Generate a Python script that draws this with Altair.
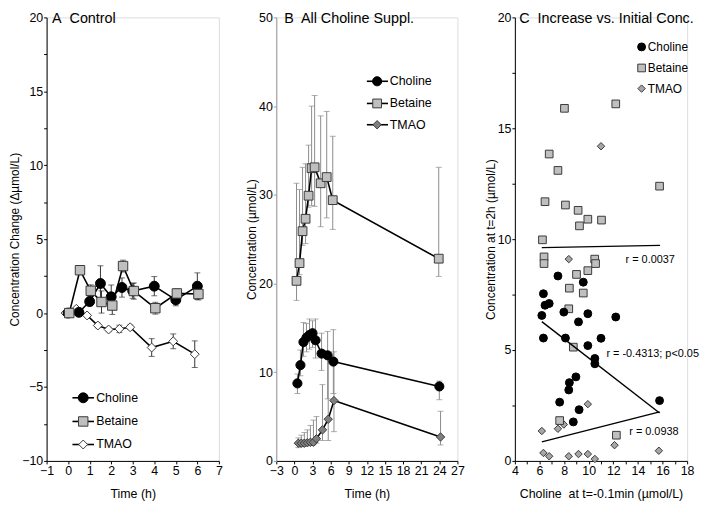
import altair as alt
import pandas as pd

FONT = "Liberation Sans Narrow, Arial Narrow, Liberation Sans, Arial, sans-serif"
SERIES = ["Choline", "Betaine", "TMAO"]

# ---------------- Panel A: Control (change vs baseline) ----------------
a_choline_t = [0, 0.5, 1, 1.5, 2, 2.5, 3, 4, 5, 6]
a_choline_v = [0, 0.05, 0.78, 2.0, 1.1, 1.73, 1.5, 1.82, 0.89, 1.82]
a_choline_e = [0, 0.15, 0.3, 1.2, 0.8, 0.65, 0.5, 0.65, 0.4, 0.9]
a_betaine_t = [0.05, 0.55, 1.05, 1.55, 2.05, 2.55, 3.05, 4.05, 5.05, 6.05]
a_betaine_v = [0, 2.9, 1.51, 0.75, 0.51, 3.18, 1.49, 0.33, 1.33, 1.29]
a_betaine_e = [0, 0.3, 0.4, 0.75, 0.6, 0.4, 0.55, 0.4, 0.3, 0.4]
a_tmao_t = [-0.12, 0.38, 0.88, 1.38, 1.88, 2.38, 2.88, 3.88, 4.88, 5.88]
a_tmao_v = [0, 0.29, -0.16, -0.84, -1.11, -1.07, -0.96, -2.33, -1.91, -2.78]
a_tmao_e = [0, 0.1, 0.1, 0.15, 0.15, 0.25, 0.15, 0.6, 0.5, 0.9]

# ---------------- Panel B: All choline supplementation ----------------
b_choline_t = [0.5, 1.0, 1.5, 2.0, 2.5, 3.0, 3.5, 4.5, 5.5, 6.45, 24.0]
b_choline_v = [8.74, 10.8, 13.4, 13.9, 14.2, 14.4, 13.6, 12.1, 11.9, 11.2, 8.4]
b_choline_lo = [7.6, 9.6, 11.8, 12.3, 12.6, 12.8, 11.6, 10.2, 7.0, 7.6, 6.9]
b_choline_hi = [9.8, 12.5, 15.6, 15.5, 16.0, 15.8, 16.0, 14.4, 14.6, 14.8, 9.0]
b_betaine_t = [0.35, 0.85, 1.35, 1.85, 2.35, 2.85, 3.35, 4.35, 5.35, 6.35, 23.9]
b_betaine_v = [20.3, 22.3, 25.9, 27.3, 29.9, 33.0, 33.1, 31.3, 32.0, 29.4, 22.8]
b_betaine_lo = [18.1, 21.0, 24.3, 24.5, 28.6, 28.8, 28.7, 26.4, 27.4, 26.1, 20.8]
b_betaine_hi = [31.3, 30.6, 33.1, 33.5, 35.6, 40.0, 41.2, 38.9, 39.4, 36.6, 33.1]
b_tmao_t = [0.65, 1.15, 1.65, 2.15, 2.65, 3.15, 3.65, 4.65, 5.6, 6.55, 24.2]
b_tmao_v = [2.0, 2.0, 2.0, 2.05, 2.1, 2.1, 2.5, 3.5, 4.7, 6.8, 2.7]
b_tmao_lo = [1.5, 1.6, 1.7, 1.8, 1.8, 1.8, 2.0, 2.3, 2.3, 3.3, 1.8]
b_tmao_hi = [2.6, 2.9, 3.2, 3.5, 4.0, 4.6, 5.0, 8.6, 12.0, 12.3, 5.6]

# ---------------- Panel C: increase vs initial concentration ----------------
c_choline_x = [7.5, 9.56, 6.32, 6.79, 6.45, 6.19, 7.98, 9.93, 9.17, 12.2, 6.32, 8.11,
               11.0, 9.93, 10.5, 10.5, 8.96, 8.43, 8.38, 7.64, 9.22, 8.75, 15.76]
c_choline_y = [8.34, 8.06, 7.54, 7.10, 7.02, 6.56, 6.71, 6.64, 6.27, 6.49, 5.54, 5.54,
               5.53, 5.2, 4.62, 4.38, 3.79, 3.53, 3.2, 2.65, 2.31, 1.76, 2.72]
c_betaine_x = [8.03, 12.2, 6.79, 7.5, 15.76, 6.45, 8.11, 9.14, 9.93, 11.04, 9.25, 6.24,
               6.37, 6.37, 10.49, 10.56, 9.93, 9.01, 8.43, 9.56, 8.38, 8.75, 7.64, 12.25]
c_betaine_y = [15.9, 16.1, 13.84, 13.1, 12.39, 11.69, 11.54, 11.3, 10.9, 10.86, 10.6, 9.97,
               9.2, 8.9, 9.1, 8.9, 8.58, 8.41, 7.79, 7.57, 6.86, 5.13, 1.82, 1.16]
c_tmao_x = [11.0, 8.38, 9.93, 6.19, 7.5, 7.98, 12.1, 6.32, 6.79, 8.38, 9.17, 9.93, 10.5, 15.7]
c_tmao_y = [14.19, 9.1, 2.56, 1.35, 1.45, 1.64, 0.71, 0.36, 0.21, 0.21, 0.31, 0.31, 0.09, 0.46]
# regression line end points
c_fit_x0 = [6.19, 6.19, 6.19]
c_fit_y0 = [6.28, 9.62, 0.86]
c_fit_x1 = [15.76, 15.8, 15.76]
c_fit_y1 = [2.16, 9.72, 2.21]
c_r_text = ["r = -0.4313; p<0.05", "r = 0.0037", "r = 0.0938"]
c_r_x = [15.2, 15.0, 15.3]
c_r_y = [4.84, 9.07, 1.3]

# ---------------- helpers ----------------
def long_df(parts):
    rows = []
    for name, ts, vs, los, his in parts:
        for t, v, lo, hi in zip(ts, vs, los, his):
            rows.append(dict(series=name, t=t, v=v, lo=lo, hi=hi))
    return pd.DataFrame(rows)


def sym(vals, errs, sign):
    return [v + sign * e for v, e in zip(vals, errs)]


AX = dict(grid=False, domainColor="black", tickColor="black", labelColor="black",
          titleColor="black", labelFont=FONT, titleFont=FONT, labelFontSize=12.5,
          titleFontSize=12.5, titleFontWeight="normal", tickSize=3, labelPadding=1,
          labelOverlap=False, labelFlush=False, tickCount=100, format="d")


def xaxis(title, values, label_expr=None):
    kw = dict(AX, title=title, values=values, titlePadding=10)
    if label_expr:
        kw["labelExpr"] = label_expr
    return alt.Axis(**kw)


def yaxis(title, values, label_expr=None, domain_color="black"):
    kw = dict(AX, title=title, values=values, titlePadding=0, titleFontSize=12)
    kw["domainColor"] = domain_color
    kw["tickColor"] = domain_color
    if label_expr:
        kw["labelExpr"] = label_expr
    return alt.Axis(**kw)


def build_panel(df, xs, ys, xax, yax, fills, sizes, stroke_cols, bar_color):
    def X(f):
        return alt.X(f"{f}:Q", scale=alt.Scale(domain=xs, nice=False, zero=False), axis=xax)

    def Y(f):
        return alt.Y(f"{f}:Q", scale=alt.Scale(domain=ys, nice=False, zero=False), axis=yax)

    base = alt.Chart(df)
    shape = alt.Shape("series:N", scale=alt.Scale(domain=SERIES, range=["circle", "square", "diamond"]), legend=None)
    fill = alt.Fill("series:N", scale=alt.Scale(domain=SERIES, range=fills), legend=None)
    size = alt.Size("series:N", scale=alt.Scale(domain=SERIES, range=sizes), legend=None)
    stroke = alt.Stroke("series:N", scale=alt.Scale(domain=SERIES, range=stroke_cols), legend=None)

    bars = base.transform_filter("datum.hi > datum.lo")
    rules = bars.mark_rule(color=bar_color, strokeWidth=1).encode(x=X("t"), y=Y("lo"), y2="hi")
    cap_lo = bars.mark_tick(color=bar_color, orient="horizontal", size=6, thickness=1).encode(x=X("t"), y=Y("lo"))
    cap_hi = bars.mark_tick(color=bar_color, orient="horizontal", size=6, thickness=1).encode(x=X("t"), y=Y("hi"))
    lines = base.mark_line(color="black", strokeWidth=1.6).encode(
        x=X("t"), y=Y("v"), detail="series:N", order="t:Q")
    pts = base.mark_point(filled=True, opacity=1, strokeWidth=1).encode(
        x=X("t"), y=Y("v"), shape=shape, fill=fill, size=size, stroke=stroke)
    return [rules, cap_lo, cap_hi, lines, pts], X, Y, shape, fill, stroke


def legend_layers(Y, ys, x_line, x_mark, x_text, shape, fill, stroke, size_range, with_lines=True):
    ldf = pd.DataFrame(dict(series=SERIES, ly=ys))
    lb = alt.Chart(ldf)
    out = []
    if with_lines:
        out.append(lb.mark_rule(color="black", strokeWidth=1.6).encode(
            x=alt.datum(x_line[0], type="quantitative"), x2=alt.datum(x_line[1]), y=Y("ly")))
    out.append(lb.mark_point(filled=True, opacity=1, strokeWidth=1).encode(
        x=alt.datum(x_mark, type="quantitative"), y=Y("ly"), shape=shape, fill=fill, stroke=stroke,
        size=alt.Size("series:N", scale=alt.Scale(domain=SERIES, range=size_range), legend=None)))
    out.append(lb.mark_text(align="left", baseline="middle", font=FONT, fontSize=12.5, color="black").encode(
        x=alt.datum(x_text, type="quantitative"), y=Y("ly"), text="series:N"))
    return out


TITLE_SIZE = 14.5


def title_layer(text, xval, yval):
    return alt.Chart(pd.DataFrame(dict(label=[text]))).mark_text(
        align="left", baseline="middle", font=FONT, fontSize=TITLE_SIZE, color="black", dy=2).encode(
        x=alt.datum(xval, type="quantitative"), y=alt.datum(yval, type="quantitative"), text="label:N")


# ---------------- Panel A ----------------
WA, WB, WC, H = 174, 183, 174, 448
dfA = long_df([
    ("TMAO", a_tmao_t, a_tmao_v, sym(a_tmao_v, a_tmao_e, -1), sym(a_tmao_v, a_tmao_e, 1)),
    ("Choline", a_choline_t, a_choline_v, sym(a_choline_v, a_choline_e, -1), sym(a_choline_v, a_choline_e, 1)),
    ("Betaine", a_betaine_t, a_betaine_v, sym(a_betaine_v, a_betaine_e, -1), sym(a_betaine_v, a_betaine_e, 1)),
])
axA_x = xaxis("Time (h)", list(range(-1, 8)))
axA_y = yaxis("Concentration Change (\u0394\u00b5mol/L)", [v * 2.5 for v in range(-4, 9)],
              "datum.value % 5 == 0 ? datum.label : ''")
layA, XA, YA, shA, fiA, stA = build_panel(
    dfA, [-1, 7], [-10, 20], axA_x, axA_y,
    ["black", "#bfbfbf", "white"], [100, 81, 85], ["black", "#3a3a3a", "#3a3a3a"], "#333333")
layA += legend_layers(YA, [-5.73, -7.33, -8.89], [0.2, 1.2], 0.7, 1.3, shA, fiA, stA, [100, 81, 85])
layA.append(title_layer("A\u00a0 Control", -0.75, 20))
chartA = alt.layer(*layA).properties(width=WA, height=H)

# ---------------- Panel B ----------------
dfB = long_df([
    ("Betaine", b_betaine_t, b_betaine_v, b_betaine_lo, b_betaine_hi),
    ("TMAO", b_tmao_t, b_tmao_v, b_tmao_lo, b_tmao_hi),
    ("Choline", b_choline_t, b_choline_v, b_choline_lo, b_choline_hi),
])
axB_x = xaxis("Time (h)", list(range(-3, 28, 3)))
axB_y = yaxis("Concentration (\u00b5mol/L)", list(range(0, 51, 10)), domain_color="#9a9a9a")
layB, XB, YB, shB, fiB, stB = build_panel(
    dfB, [-3, 27], [0, 50], axB_x, axB_y,
    ["black", "#bfbfbf", "#7f7f7f"], [85, 72, 70], ["black", "#3a3a3a", "#3a3a3a"], "#8c8c8c")
layB += legend_layers(YB, [42.8, 40.3, 37.9], [12.0, 15.5], 13.7, 15.8, shB, fiB, stB, [64, 56, 40])
layB.append(title_layer("B\u00a0 All Choline Suppl.", -1.7, 50))
chartB = alt.layer(*layB).properties(width=WB, height=H)

# ---------------- Panel C ----------------
dfC = pd.concat([
    pd.DataFrame(dict(series="TMAO", cx=c_tmao_x, cy=c_tmao_y)),
    pd.DataFrame(dict(series="Betaine", cx=c_betaine_x, cy=c_betaine_y)),
    pd.DataFrame(dict(series="Choline", cx=c_choline_x, cy=c_choline_y)),
], ignore_index=True)
axC_x = xaxis("Choline\u00a0 at t=-0.1min (\u00b5mol/L)", list(range(4, 19)),
              "datum.value % 2 == 0 ? datum.label : ''")
axC_y = yaxis("Concentration at t=2h (\u00b5mol/L)", [v * 2.5 for v in range(0, 9)],
              "datum.value % 5 == 0 ? datum.label : ''")


def XC(f):
    return alt.X(f"{f}:Q", scale=alt.Scale(domain=[4, 18], nice=False, zero=False), axis=axC_x)


def YC(f):
    return alt.Y(f"{f}:Q", scale=alt.Scale(domain=[0, 20], nice=False, zero=False), axis=axC_y)


shC = alt.Shape("series:N", scale=alt.Scale(domain=SERIES, range=["circle", "square", "diamond"]), legend=None)
fiC = alt.Fill("series:N", scale=alt.Scale(domain=SERIES, range=["black", "#bfbfbf", "#a6a6a6"]), legend=None)
stC = alt.Stroke("series:N", scale=alt.Scale(domain=SERIES, range=["black", "#3a3a3a", "#3a3a3a"]), legend=None)
szC = alt.Size("series:N", scale=alt.Scale(domain=SERIES, range=[64, 56, 46]), legend=None)

fitC = pd.DataFrame(dict(fid=[0, 0, 1, 1, 2, 2],
                         fx=[c_fit_x0[0], c_fit_x1[0], c_fit_x0[1], c_fit_x1[1], c_fit_x0[2], c_fit_x1[2]],
                         fy=[c_fit_y0[0], c_fit_y1[0], c_fit_y0[1], c_fit_y1[1], c_fit_y0[2], c_fit_y1[2]]))
rC = pd.DataFrame(dict(txt=c_r_text, rx=c_r_x, ry=c_r_y))

layC = [
    alt.Chart(dfC).mark_point(filled=True, opacity=1, strokeWidth=1).encode(
        x=XC("cx"), y=YC("cy"), shape=shC, fill=fiC, stroke=stC, size=szC),
    alt.Chart(fitC).mark_line(color="black", strokeWidth=1.4).encode(
        x=XC("fx"), y=YC("fy"), detail="fid:N"),
    alt.Chart(rC).mark_text(font=FONT, fontSize=11, color="black", align="center", baseline="middle").encode(
        x=XC("rx"), y=YC("ry"), text="txt:N"),
]
legC = pd.DataFrame(dict(series=SERIES, ly=[18.67, 17.72, 16.79]))
layC.append(alt.Chart(legC).mark_point(filled=True, opacity=1, strokeWidth=1).encode(
    x=alt.datum(14.3, type="quantitative"), y=YC("ly"), shape=shC, fill=fiC, stroke=stC,
    size=alt.Size("series:N", scale=alt.Scale(domain=SERIES, range=[36, 49, 30]), legend=None)))
layC.append(alt.Chart(legC).mark_text(align="left", baseline="middle", font=FONT, fontSize=12, color="black").encode(
    x=alt.datum(14.8, type="quantitative"), y=YC("ly"), text="series:N"))
layC.append(title_layer("C\u00a0 Increase vs. Initial Conc.", 4.35, 20))
chartC = alt.layer(*layC).properties(width=WC, height=H)

RES = dict(fill="independent", shape="independent", size="independent", stroke="independent")
chart = alt.hconcat(chartA, chartB, chartC, spacing=58, bounds="flush").resolve_scale(**RES).properties(
    padding={"left": 0, "top": 0, "right": 0, "bottom": 0}
).configure_view(stroke=None).configure_axis(labelOverlap=False).configure(font=FONT)

chart.save("out.html", embed_options={"renderer": "svg", "actions": False})
